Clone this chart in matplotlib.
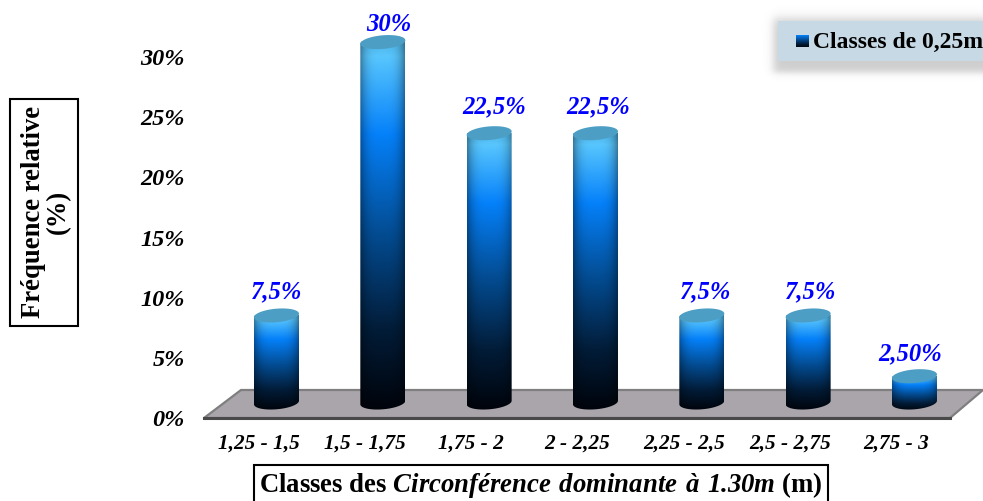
import numpy as np
import matplotlib
matplotlib.use('Agg')
from matplotlib import pyplot as plt
from matplotlib.colors import LinearSegmentedColormap
from matplotlib.patches import Polygon, Rectangle
from matplotlib.transforms import ScaledTranslation

classes = ['1,25 - 1,5', '1,5 - 1,75', '1,75 - 2', '2 - 2,25', '2,25 - 2,5', '2,5 - 2,75', '2,75 - 3']
freq = [7.5, 30, 22.5, 22.5, 7.5, 7.5, 2.5]
freq_labels = ['7,5%', '30%', '22,5%', '22,5%', '7,5%', '7,5%', '2,50%']
y_ticks = [0, 5, 10, 15, 20, 25, 30]
y_tick_labels = ['0%', '5%', '10%', '15%', '20%', '25%', '30%']

plt.rcParams['font.family'] = ['Liberation Serif']
plt.rcParams['mathtext.fontset'] = 'custom'
plt.rcParams['mathtext.bfit'] = 'Liberation Serif:italic:bold'
plt.rcParams['mathtext.rm'] = 'Liberation Serif:bold'

W, H = 983, 501
fig = plt.figure(figsize=(W / 100, H / 100), dpi=100)

# axes box in pixels, x unit = one class, y unit = one percent
px_x = 106.33
px_y = 12.03
left, right, bottom, top = 223, 967, 418, 10
ax = fig.add_axes([left / W, 1 - bottom / H, (right - left) / W, (bottom - top) / H])
ax.set_xlim((left - 276.5) / px_x, (right - 276.5) / px_x)
ax.set_ylim(0, (bottom - top) / px_y)
for s in ax.spines.values():
    s.set_visible(False)
ax.patch.set_alpha(0)

ax.set_xticks(range(len(classes)), classes, fontsize=15.3, fontweight='bold', fontstyle='italic')
ax.set_yticks(y_ticks, y_tick_labels, fontsize=17.5, fontweight='bold', fontstyle='italic')
ax.tick_params(axis='both', length=0)
ax.tick_params(axis='x', pad=11)
ax.tick_params(axis='y', pad=27.5)
# category labels sit left of the bars in the original
shift = ScaledTranslation(-18 / 100, 0, fig.dpi_scale_trans)
for lab in ax.get_xticklabels():
    lab.set_transform(lab.get_transform() + shift)


def xd(p):
    return (p - 276.5) / px_x


def yd(p):
    return (bottom - p) / px_y


# floor
floor_x = [xd(p) for p in [204, 950, 983, 241]]
floor_y = [yd(p) for p in [418, 418, 390, 390]]
ax.add_patch(Polygon(list(zip(floor_x, floor_y)), closed=True, facecolor='#a9a5ab', edgecolor='#7f7f7f', lw=1.6, clip_on=False, zorder=1))
ax.plot(floor_x[:2], floor_y[:2], color='#4a4a4a', lw=2.2, zorder=1.1, clip_on=False)

# cylinder shading, bottom to top
shade = LinearSegmentedColormap.from_list('cyl', [(0, '#00030a'), (0.22, '#021c38'), (0.48, '#034c92'), (0.75, '#0581fa'), (0.96, '#58c6fe'), (1, '#4fb4e6')])
v = np.linspace(0, 1, 256)[:, None]
u = np.linspace(-1, 1, 128)[None, :]
grad = shade(v * np.ones((256, 128)))[:, :, :3]
grad = grad * (1 - 0.38 * np.abs(u[:, :, None]) ** 3.5)

half_w = 22.5 / px_x
ell_a = half_w
ell_b = 6.8 / px_y
tilt = 1.8 / px_y
base = 11.4 / px_y
foot = 15.5 / px_y
stretch = 1.01  # bars climb a touch faster than the tick spacing
t = np.linspace(0, 2 * np.pi, 120)

for i, f in enumerate(freq):
    y0 = foot
    y1 = base + f * stretch
    lower = np.linspace(np.pi, 2 * np.pi, 60)
    upper = np.linspace(0, np.pi, 60)
    xs = np.r_[i + ell_a * np.cos(lower), i + ell_a * np.cos(upper)]
    ys = np.r_[y0 + ell_b * np.sin(lower) + tilt * np.cos(lower), y1 + ell_b * np.sin(upper) + tilt * np.cos(upper)]
    body = Polygon(np.c_[xs, ys], closed=True, transform=ax.transData, facecolor='none', edgecolor='none')
    ax.add_patch(body)
    im = ax.imshow(grad, origin='lower', extent=[i - half_w, i + half_w, y0 - ell_b - tilt, y1], aspect='auto', zorder=2, clip_on=True)
    im.set_clip_path(body)
    ax.fill(i + ell_a * np.cos(t), y1 + ell_b * np.sin(t) + tilt * np.cos(t), color='#4d9ec4', zorder=3, lw=0)
ax.set_xlim((left - 276.5) / px_x, (right - 276.5) / px_x)
ax.set_ylim(0, (bottom - top) / px_y)

# value labels sit a bit off centre in the original
label_dx = [0, 6, 5, 3, 4, 3, -4]
label_dy = [17, 12.7, 19, 19, 17, 17, 15.8]
for i, f in enumerate(freq):
    ax.annotate(freq_labels[i], (i, base + f * stretch), xytext=(label_dx[i] * 0.72, label_dy[i]), textcoords='offset points',
                ha='center', va='center', color='#0000ff', fontsize=17.7, fontweight='bold', fontstyle='italic', annotation_clip=False)

# frames for axis titles
fig.text(46 / W, 1 - 212 / H, 'Fréquence relative\n(%)', rotation=90, ha='center', va='center', ma='center',
         fontsize=19.2, fontweight='bold', linespacing=1.0)
fig.add_artist(Rectangle((10 / W, 1 - 326 / H), 68 / W, 227 / H, transform=fig.transFigure, fill=False, ec='black', lw=1.5))
fig.text(541 / W, 1 - 485 / H, r'Classes des $\mathbfit{Circonférence\ dominante\ à\ 1.30m}$ (m)', ha='center', va='center',
         fontsize=19.3, fontweight='bold')
# bottom of this frame runs off the picture
fig.add_artist(Rectangle((254 / W, 1 - 505 / H), 574 / W, 40 / H, transform=fig.transFigure, fill=False, ec='black', lw=1.5, clip_on=True))

# legend box with soft shadow
sx = np.arange(755, 983)
sy = np.arange(0, 95)
a_x = 0.5 * (np.tanh((sx - 773) / 5) + 1)
a_y = 0.5 * (np.tanh((sy - 18) / 6) - np.tanh((sy - 72) / 4))
shadow = np.zeros((len(sy), len(sx), 4))
shadow[:, :, :3] = 0.5
shadow[:, :, 3] = 0.38 * a_y[:, None] * a_x[None, :]
sa = fig.add_axes([755 / W, 1 - 95 / H, 228 / W, 95 / H])
sa.set_zorder(0.5)
sa.imshow(shadow, origin='upper', aspect='auto')
sa.axis('off')
fig.add_artist(Rectangle((778 / W, 1 - 61 / H), 205 / W, 40 / H, transform=fig.transFigure, fc='#c6d9e4', ec='none'))
sw = fig.add_axes([796 / W, 1 - 47 / H, 13 / W, 12 / H])
sw.set_zorder(5)
sw.imshow(shade(np.linspace(0.05, 0.75, 32)[:, None]), origin='lower', aspect='auto')
sw.axis('off')
fig.text(813 / W, 1 - 42 / H, 'Classes de 0,25m', ha='left', va='center', fontsize=17.0, fontweight='bold')

fig.savefig('out.png', dpi=100)
